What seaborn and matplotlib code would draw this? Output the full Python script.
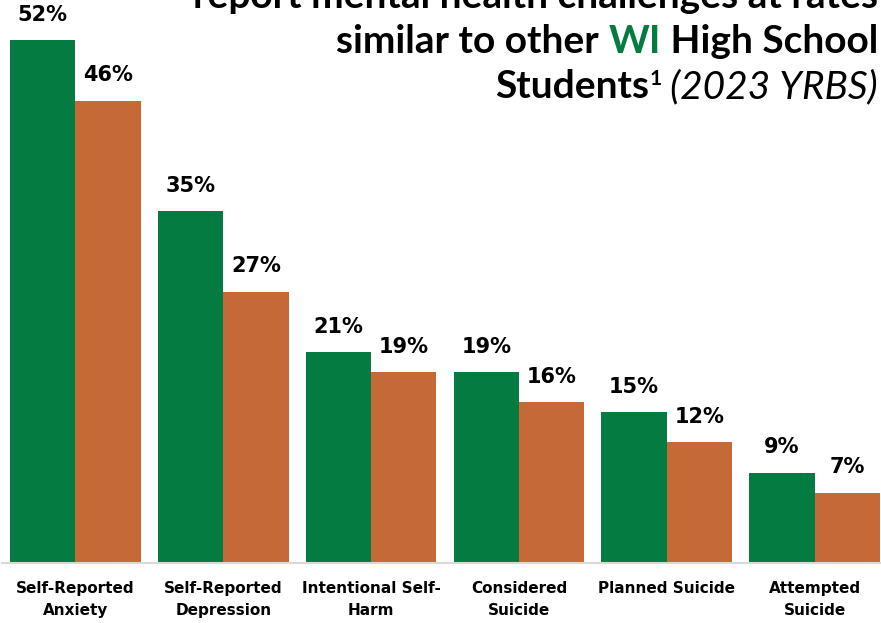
import pandas as pd
import matplotlib.pyplot as plt
import seaborn as sns

categories = ["Self-Reported\nAnxiety", "Self-Reported\nDepression", "Intentional Self-\nHarm",
              "Considered\nSuicide", "Planned Suicide", "Attempted\nSuicide"]
group_a = [52, 35, 21, 19, 15, 9]
group_b = [46, 27, 19, 16, 12, 7]
series_names = ["Group A", "WI High School"]

GREEN = "#047B40"
ORANGE = "#C56A36"

df = pd.DataFrame({
    "category": categories * 2,
    "series": [series_names[0]] * len(categories) + [series_names[1]] * len(categories),
    "value": group_a + group_b,
})

sns.set_style("white")
plt.rcParams["font.family"] = ["DejaVu Sans"]
plt.rcParams["text.color"] = "black"
plt.rcParams["xtick.color"] = "black"

fig = plt.figure(figsize=(8.81, 6.23), dpi=100)
ax = fig.add_axes([1.5 / 881, 60 / 623, 887 / 881, 563 / 623])

sns.barplot(data=df, x="category", y="value", hue="series",
            palette=[GREEN, ORANGE], width=0.885, saturation=1,
            linewidth=0, legend=False, ax=ax)

ax.set_ylim(0, 56)
ax.set_xlim(-0.5, 5.5)
ax.set_xlabel("")
ax.set_ylabel("")
ax.set_yticks([])
for side in ["top", "left", "right"]:
    ax.spines[side].set_visible(False)
ax.spines["bottom"].set_color("#d9d9d9")
ax.spines["bottom"].set_linewidth(1.5)
ax.tick_params(axis="x", length=0, pad=13, labelcolor="black")
for lbl in ax.get_xticklabels():
    lbl.set_fontsize(11)
    lbl.set_fontweight("bold")
    lbl.set_linespacing(1.6)
    lbl.set_verticalalignment("top")

for cont in ax.containers:
    ax.bar_label(cont, fmt="{:.0f}%", padding=11, fontsize=15, fontweight="bold", color="black")

# title, right aligned and cut off at the top like the source slide
fig.canvas.draw()
renderer = fig.canvas.get_renderer()


def right_line(pieces, y, x_right=878 / 881):
    x = x_right
    for text, style, dy in reversed(pieces):
        t = fig.text(x, y + dy / 623, text, ha="right", va="baseline",
                     transform=fig.transFigure, family="Lato", **style)
        bb = t.get_window_extent(renderer)
        x -= bb.width / fig.bbox.width


bold = dict(fontsize=28, fontweight="bold", color="black")
right_line([("report mental health challenges at rates", bold, 0)], 1 - 8 / 623)
right_line([("similar to other ", bold, 0), ("WI", dict(bold, color=GREEN), 0),
            (" High School", bold, 0)], 1 - 53 / 623)
right_line([("Students", bold, 0),
            ("1", dict(fontsize=15, fontweight="bold", color="black"), 13),
            (" (2023 YRBS)", dict(fontsize=28, style="italic", color="black"), 0)], 1 - 98 / 623)

fig.savefig("out.png", dpi=100)
